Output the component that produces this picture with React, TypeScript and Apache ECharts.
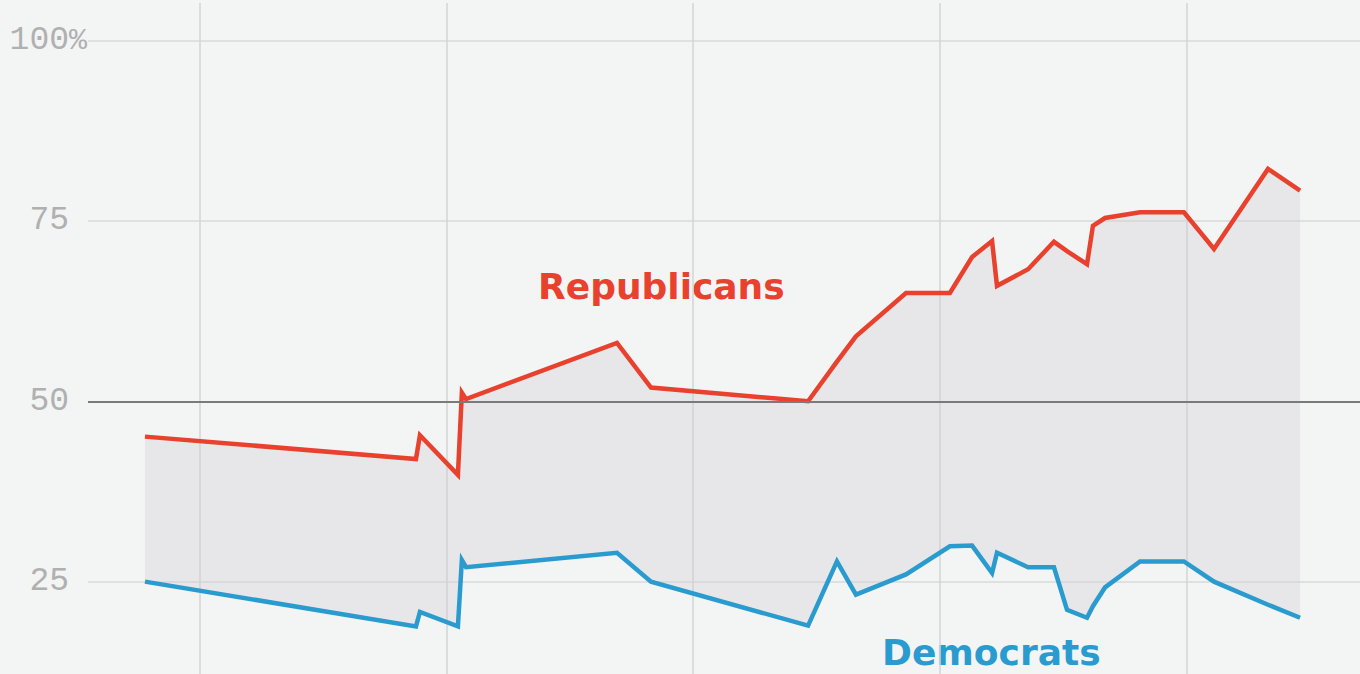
import React, { useEffect, useRef } from "react";
import * as echarts from "echarts";

// Survey dates (decimal years; x axis carries no labels)
const surveyDates = [
  1977.77, 1988.76, 1988.92, 1990.46, 1990.62, 1990.79, 1996.91, 1998.29,
  2004.66, 2005.83, 2006.6, 2008.63, 2010.41, 2011.31, 2012.12, 2012.32,
  2013.58, 2014.63, 2015.16, 2015.97, 2016.21, 2016.7, 2018.12, 2019.9,
  2021.12, 2023.31, 2024.61,
];

const republicans = [
  45.1, 42, 45.3, 39.8, 51.2, 50.3, 58.1, 51.9,
  50, 55.5, 59, 65, 65, 70, 72.2, 66,
  68.3, 72.1, 70.8, 69, 74.3, 75.4, 76.2, 76.2,
  71.1, 82.2, 79.2,
];

const democrats = [
  25, 18.8, 20.8, 18.8, 28, 27, 29, 25,
  18.9, 27.8, 23.2, 26, 29.9, 30, 26.2, 29,
  27, 27, 21.1, 20, 21.6, 24.2, 27.8, 27.8,
  25, 21.8, 20,
];

const yTicks = [25, 50, 75, 100];
const referenceLine = 50;

const RED = "#e8412d";
const BLUE = "#2a9bcf";
const BG = "#f3f4f4";
const LABEL_FONT = "'Liberation Mono', 'DejaVu Sans Mono', monospace";

export default function App() {
  const ref = useRef<HTMLDivElement>(null);

  useEffect(() => {
    if (!ref.current) return;
    const chart = echarts.init(ref.current, undefined, { renderer: "svg" });

    const demData = surveyDates.map((d, i) => [d, democrats[i]]);
    const repData = surveyDates.map((d, i) => [d, republicans[i]]);

    chart.setOption({
      animation: false,
      backgroundColor: BG,
      grid: { left: 88, right: 0, top: 3, bottom: 0 },
      xAxis: {
        type: "value",
        min: 1975.46,
        max: 2027.04,
        minInterval: 10,
        maxInterval: 10,
        axisLine: { show: false },
        axisTick: { show: false },
        axisLabel: { show: false },
        splitLine: {
          show: true,
          showMinLine: false,
          showMaxLine: false,
          lineStyle: { color: "#d4d4d4", width: 1.5 },
        },
      },
      yAxis: {
        type: "value",
        min: 12.2,
        max: 105.2,
        minInterval: 25,
        maxInterval: 25,
        axisLine: { show: false },
        axisTick: { show: false },
        axisLabel: {
          showMinLabel: false,
          showMaxLabel: false,
          margin: 1,
          color: "#b0b0b0",
          fontFamily: LABEL_FONT,
          fontSize: 33,
          formatter: (v: number) => {
            if (!yTicks.includes(v)) return "";
            return v === 100 ? v + "{p|%}" : v + "{h|%}";
          },
          rich: {
            p: { color: "#b0b0b0", fontFamily: LABEL_FONT, fontSize: 30 },
            h: { color: "rgba(0,0,0,0)", fontFamily: LABEL_FONT, fontSize: 30 },
          },
        },
        splitLine: {
          show: true,
          showMinLine: false,
          showMaxLine: false,
          lineStyle: { color: "#dadada", width: 1.5 },
        },
      },
      series: [
        {
          name: "gap",
          type: "custom",
          z: 1,
          silent: true,
          data: [[surveyDates[0], republicans[0]]],
          renderItem: (_params: any, api: any) => {
            const top = surveyDates.map((d, i) => api.coord([d, republicans[i]]));
            const bottom = surveyDates
              .map((d, i) => api.coord([d, democrats[i]]))
              .reverse();
            return {
              type: "polygon",
              shape: { points: top.concat(bottom) },
              style: { fill: "rgba(205,205,214,0.33)" },
            };
          },
          markLine: {
            silent: true,
            symbol: "none",
            label: { show: false },
            data: [{ yAxis: referenceLine }],
            lineStyle: { color: "#7a7a7a", width: 2, type: "solid" },
          },
        },
        {
          name: "Democrats",
          type: "line",
          data: demData,
          symbol: "none",
          z: 3,
          lineStyle: { color: BLUE, width: 4.5, join: "miter" },
          itemStyle: { color: BLUE },
        },
        {
          name: "Republicans",
          type: "line",
          data: repData,
          symbol: "none",
          z: 3,
          lineStyle: { color: RED, width: 4.5, join: "miter" },
          itemStyle: { color: RED },
        },
      ],
      graphic: [
        {
          type: "text",
          left: 538,
          top: 289 - 21,
          style: {
            text: "Republicans",
            fill: RED,
            font: "bold 36px 'DejaVu Sans', sans-serif",
          },
        },
        {
          type: "text",
          left: 882,
          top: 655 - 21,
          style: {
            text: "Democrats",
            fill: BLUE,
            font: "bold 36px 'DejaVu Sans', sans-serif",
          },
        },
      ],
    });

    return () => chart.dispose();
  }, []);

  return (
    <div
      ref={ref}
      style={{
        position: "absolute",
        left: 0,
        top: 0,
        width: 1360,
        height: 674,
        background: BG,
      }}
    />
  );
}
